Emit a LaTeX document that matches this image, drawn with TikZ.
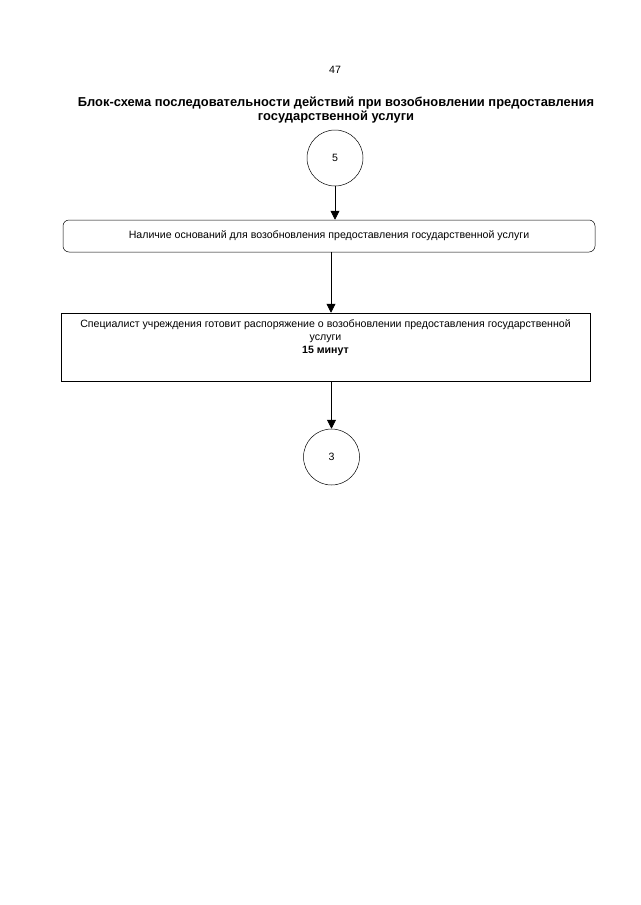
\documentclass[tikz,border=0pt]{standalone}
\usepackage{fontspec}
\setmainfont{Liberation Sans}
\usetikzlibrary{arrows.meta,positioning}

\begin{document}
\begin{tikzpicture}[
  x=1pt,y=-1pt,
  font=\fontsize{10.6}{13}\selectfont,
  >={Triangle[width=9pt,length=9pt]},
  edge/.style={->,draw=black,line width=0.7pt},
  link/.style={circle,draw=black,line width=0.5pt,minimum size=56pt,inner sep=0pt},
  cond/.style={draw=black,line width=0.5pt,rounded corners=6pt,
               minimum width=532pt,minimum height=32pt,inner sep=0pt},
  action/.style={draw=black,line width=0.5pt,
                 minimum width=529pt,minimum height=68pt,inner sep=0pt}
]
\useasboundingbox (0,0) rectangle (640,905);

\node (pagenum) at (335,70) {47};
\node[align=center,font=\fontsize{12.9}{14}\selectfont\bfseries] (title) at (336,110)
  {Блок-схема последовательности действий при возобновлении предоставления\\
   государственной услуги};

\node[link] (start) at (335,158) {5};
\node[cond] (grounds) at (329,236)
  {Наличие оснований для возобновления предоставления государственной услуги};
\node[action] (prep) at (325.5,347) {};
\node[align=center,below=3pt of prep.north] (preptext)
  {Специалист учреждения готовит распоряжение о возобновлении предоставления государственной\\
   услуги\\
   \textbf{15 минут}};
\node[link] (finish) at (331.5,457) {3};

\draw[edge] (start) -- (start |- grounds.north);
\draw[edge] (grounds.south -| 331,0) -- (prep.north -| 331,0);
\draw[edge] (prep.south -| 331.5,0) -- (finish);
\end{tikzpicture}
\end{document}
